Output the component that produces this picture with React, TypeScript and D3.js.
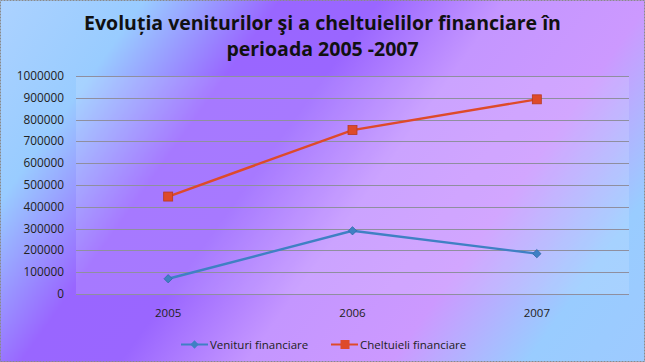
import { useEffect, useRef } from "react";
import * as d3 from "d3";

const years = ["2005", "2006", "2007"];
const venituri = [70000, 290000, 185000];
const cheltuieli = [447000, 752000, 893000];
const yTicks = [0, 100000, 200000, 300000, 400000, 500000, 600000, 700000, 800000, 900000, 1000000];
const seriesNames = ["Venituri financiare", "Cheltuieli financiare"];

export default function App() {
    const svgRef = useRef<SVGSVGElement | null>(null);

    useEffect(() => {
        if (!svgRef.current) return;
        const svg = d3.select(svgRef.current);
        svg.selectAll("*").remove();

        const W = 645, H = 362;
        const plot = { left: 76, right: 629, top: 76, bottom: 294 };
        const font = "'Open Sans', sans-serif";

        // diagonal background gradient
        const g = svg.append("defs").append("linearGradient")
            .attr("id", "bg")
            .attr("gradientUnits", "userSpaceOnUse")
            .attr("x1", 0).attr("y1", 0).attr("x2", 597).attr("y2", 428);
        ([
            [0, "#acd2ff"], [0.16, "#99ccff"], [0.31, "#9966ff"], [0.42, "#9a66ff"],
            [0.56, "#c496ff"], [0.72, "#cc99ff"], [0.87, "#99ccff"], [1, "#9dcaff"],
        ] as [number, string][]).forEach(([o, c]) => g.append("stop").attr("offset", o).attr("stop-color", c));

        svg.append("rect").attr("width", W).attr("height", H).attr("fill", "url(#bg)");
        svg.append("rect")
            .attr("x", 0.5).attr("y", 0.5).attr("width", W - 1).attr("height", H - 1)
            .attr("fill", "none").attr("stroke", "#8a8a8a").attr("stroke-dasharray", "2,1");

        // plot area, lighter veil
        svg.append("rect")
            .attr("x", plot.left).attr("y", plot.top)
            .attr("width", plot.right - plot.left).attr("height", plot.bottom - plot.top)
            .attr("fill", "#ffffff").attr("fill-opacity", 0.13);

        const x = d3.scaleBand().domain(years).range([plot.left, plot.right]);
        const y = d3.scaleLinear().domain([0, 1000000]).range([plot.bottom, plot.top]);
        const cx = (d: string) => (x(d) as number) + x.bandwidth() / 2;

        // gridlines
        svg.append("g").selectAll("line").data(yTicks).enter().append("line")
            .attr("x1", plot.left).attr("x2", plot.right)
            .attr("y1", d => Math.round(y(d)) + 0.5).attr("y2", d => Math.round(y(d)) + 0.5)
            .attr("stroke", "#8f8f9f").attr("stroke-width", 1);

        // y labels
        svg.append("g").selectAll("text").data(yTicks).enter().append("text")
            .attr("x", 64).attr("y", d => y(d) + 4)
            .attr("text-anchor", "end")
            .attr("font-family", font).attr("font-size", 11.8)
            .attr("fill", "#222")
            .text(d => String(d));

        // x labels
        svg.append("g").selectAll("text").data(years).enter().append("text")
            .attr("x", d => cx(d)).attr("y", 317)
            .attr("text-anchor", "middle")
            .attr("font-family", font).attr("font-size", 11.5)
            .attr("fill", "#222")
            .text(d => d);

        const blue = "#3f80c4", red = "#de4a2a";
        const line = d3.line<number>().x((_, i) => cx(years[i])).y(d => y(d));

        svg.append("path").datum(venituri).attr("d", line).attr("fill", "none")
            .attr("stroke", blue).attr("stroke-width", 2.4);
        svg.append("path").datum(cheltuieli).attr("d", line).attr("fill", "none")
            .attr("stroke", red).attr("stroke-width", 2.4);

        const diamond = d3.symbol().type(d3.symbolDiamond2).size(44);
        svg.append("g").selectAll("path").data(venituri).enter().append("path")
            .attr("d", diamond)
            .attr("transform", (d, i) => `translate(${cx(years[i])},${y(d)})`)
            .attr("fill", blue).attr("stroke", "#2f6aa8").attr("stroke-width", 0.8);
        svg.append("g").selectAll("rect").data(cheltuieli).enter().append("rect")
            .attr("x", (d, i) => cx(years[i]) - 4.5).attr("y", d => y(d) - 4.5)
            .attr("width", 9).attr("height", 9)
            .attr("fill", red).attr("stroke", "#b83a20").attr("stroke-width", 0.8);

        // title
        const title = svg.append("text")
            .attr("text-anchor", "middle")
            .attr("font-family", font).attr("font-weight", "bold")
            .attr("font-size", 19.5).attr("fill", "#111");
        title.append("tspan").attr("x", W / 2).attr("y", 30).text("Evoluția veniturilor şi a cheltuielilor financiare în");
        title.append("tspan").attr("x", W / 2).attr("y", 56).text("perioada 2005 -2007");

        // legend
        const leg = svg.append("g").attr("font-family", font).attr("font-size", 11.5).attr("fill", "#222");
        const items = [
            { x: 181, color: blue, name: seriesNames[0], sq: false },
            { x: 331, color: red, name: seriesNames[1], sq: true },
        ];
        items.forEach(it => {
            leg.append("line").attr("x1", it.x).attr("x2", it.x + 27).attr("y1", 344.5).attr("y2", 344.5)
                .attr("stroke", it.color).attr("stroke-width", 2);
            if (it.sq) {
                leg.append("rect").attr("x", it.x + 9.5).attr("y", 340).attr("width", 9).attr("height", 9).attr("fill", it.color);
            } else {
                leg.append("path").attr("d", diamond).attr("transform", `translate(${it.x + 13.5},344.5)`).attr("fill", it.color);
            }
            leg.append("text").attr("x", it.x + 29).attr("y", 348.5).text(it.name);
        });
    }, []);

    return (
        <div>
            <style>{`body{margin:0}`}</style>
            <svg ref={svgRef} width={645} height={362} style={{ display: "block" }}></svg>
        </div>
    );
}
